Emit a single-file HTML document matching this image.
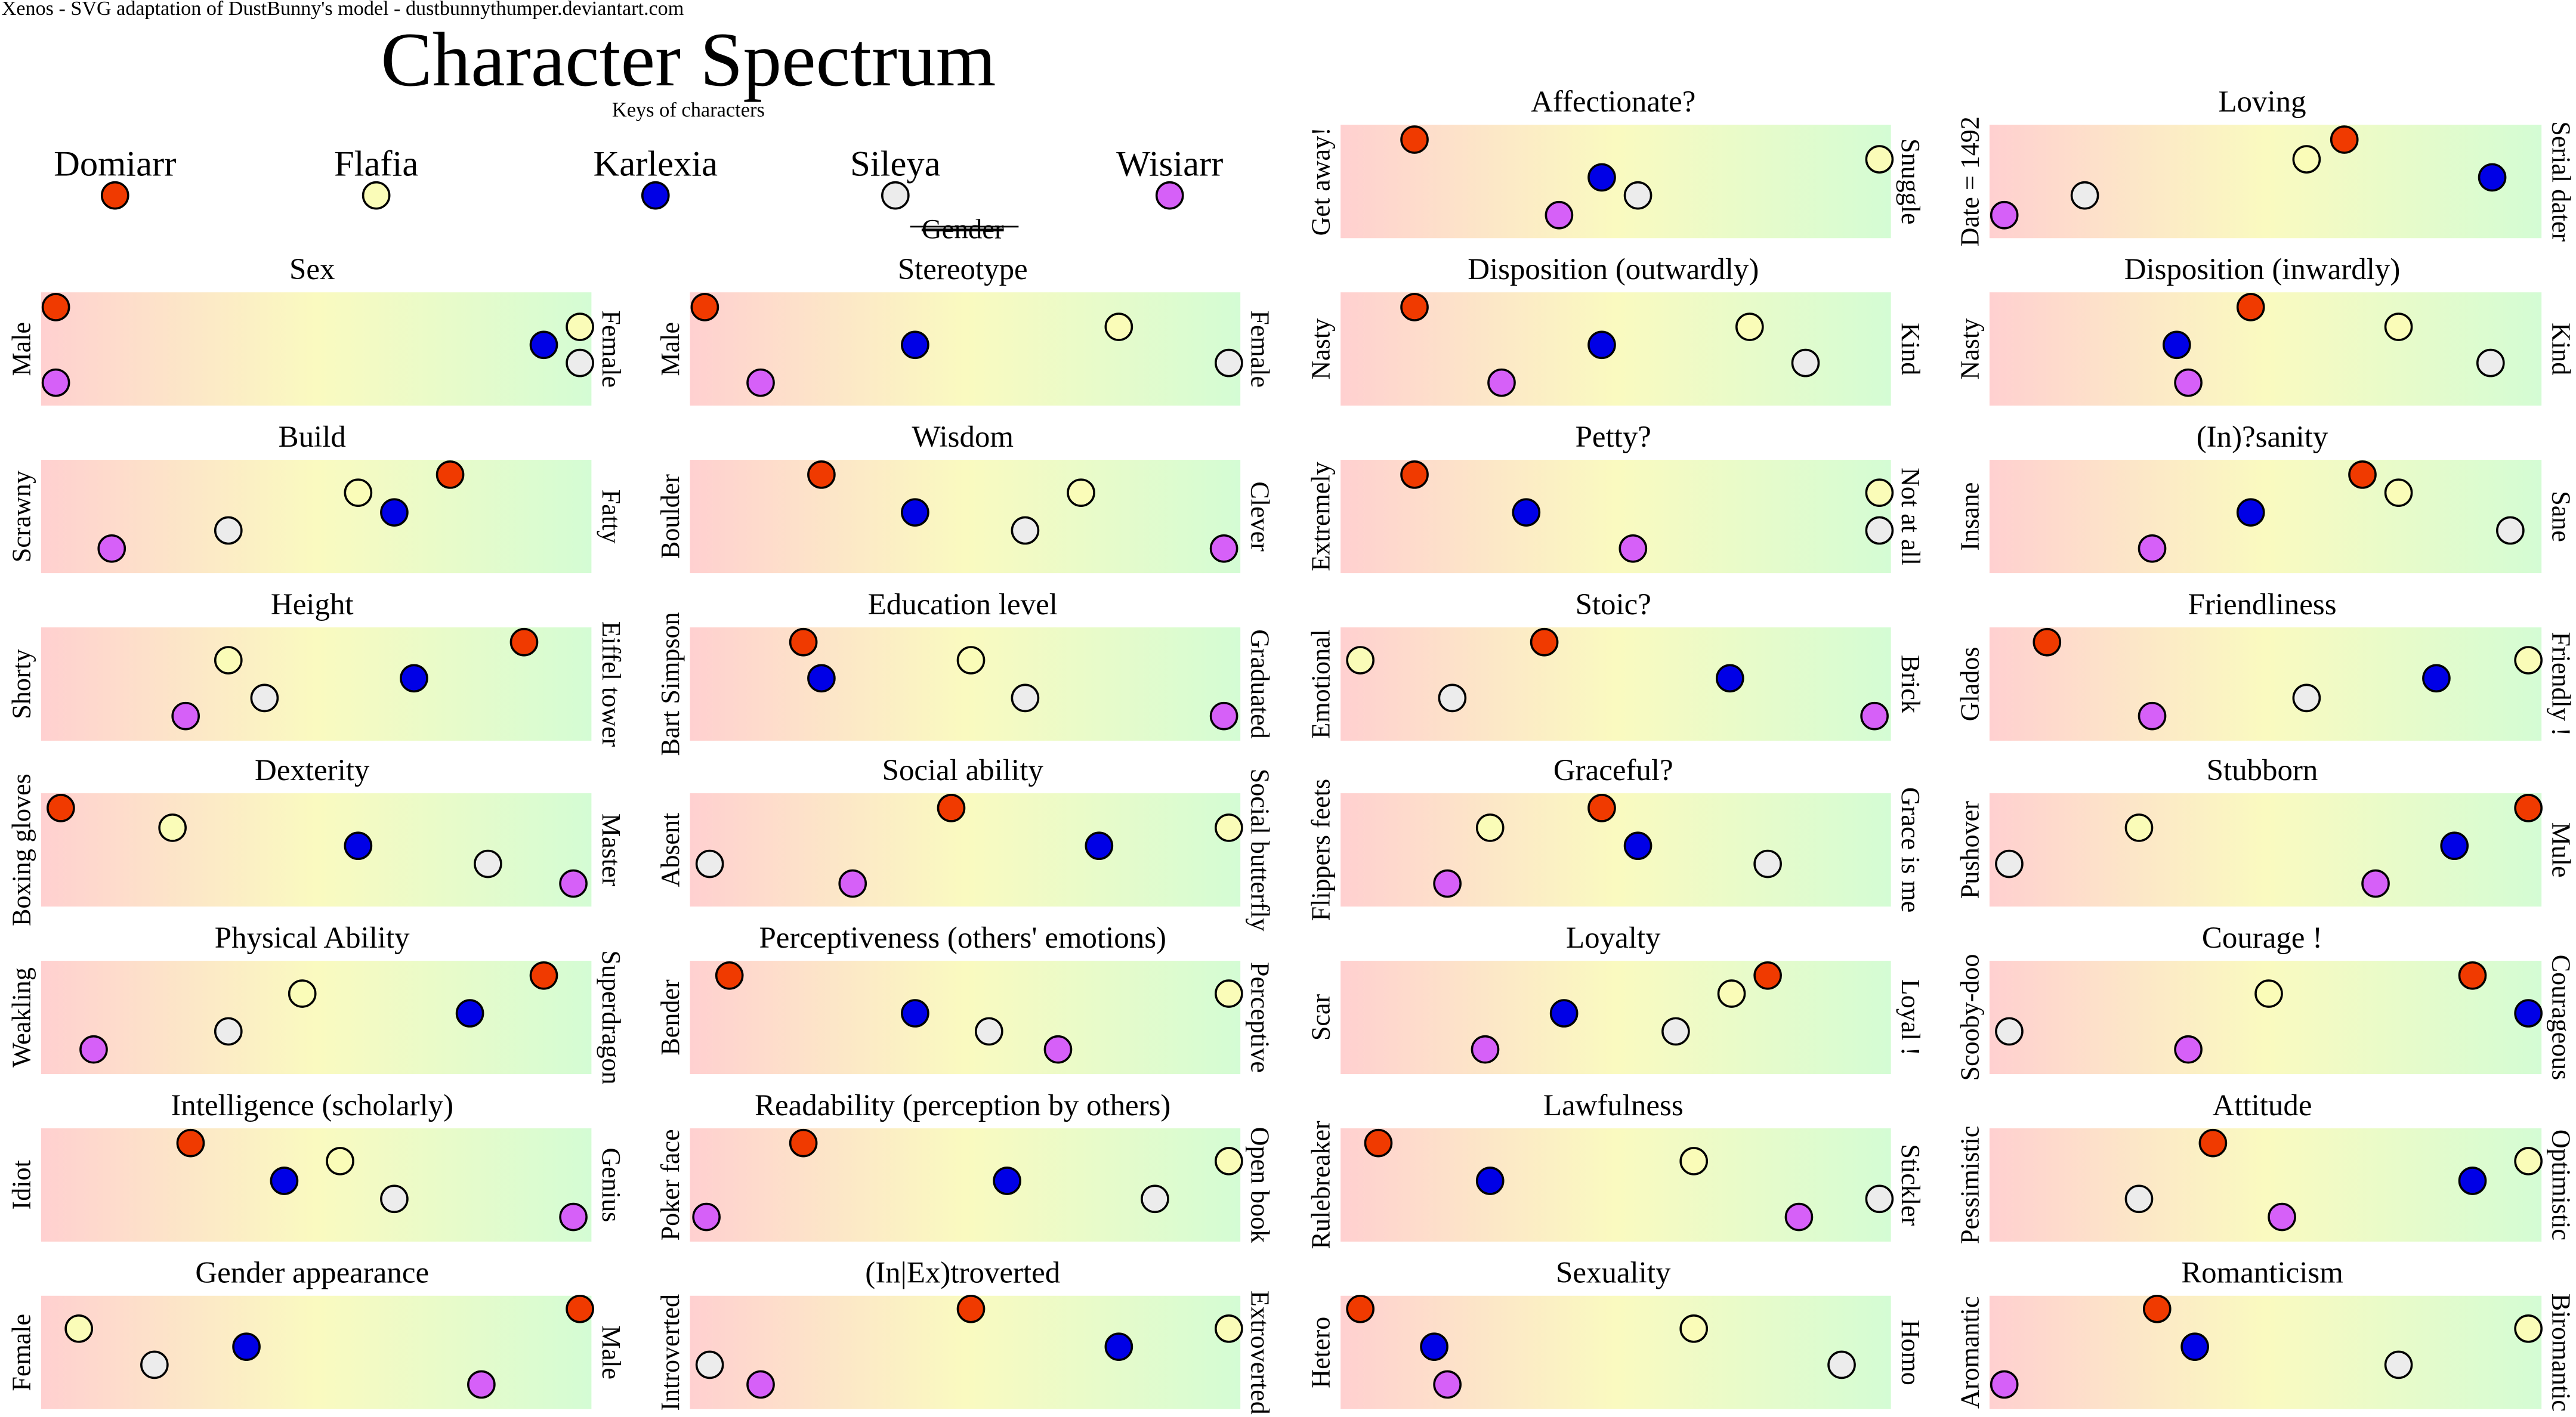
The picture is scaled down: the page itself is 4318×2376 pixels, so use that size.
<!DOCTYPE html>
<html><head><meta charset="utf-8"><style>
html,body{margin:0;padding:0;background:#fff;}
svg{display:block;}
text{font-family:"Liberation Serif",serif;fill:#000;}
.t{font-size:18.5px;text-anchor:middle;}
.l{font-size:16px;text-anchor:middle;dominant-baseline:central;}
circle{stroke:#000;stroke-width:1.3;}
.D{fill:#f03a00}.F{fill:#fafcb8}.K{fill:#0000e6}.S{fill:#ececec}.W{fill:#d660f8}
</style></head><body>
<svg width="4318" height="2376" viewBox="0 0 1568 862.8" preserveAspectRatio="none" xmlns="http://www.w3.org/2000/svg">
<defs><linearGradient id="g" x1="0" x2="1" y1="0" y2="0">
<stop offset="0" stop-color="#ffd0d0"/><stop offset="0.5" stop-color="#fafac0"/><stop offset="1" stop-color="#d4fcd4"/></linearGradient></defs>

<text x="1" y="9" style="font-size:12.4px">Xenos - SVG adaptation of DustBunny's model - dustbunnythumper.deviantart.com</text>
<text x="419" y="52" style="font-size:47px;text-anchor:middle">Character Spectrum</text>
<text x="419" y="71" style="font-size:12.5px;text-anchor:middle">Keys of characters</text>
<text x="70" y="107" style="font-size:22px;text-anchor:middle">Domiarr</text>
<text x="229" y="107" style="font-size:22px;text-anchor:middle">Flafia</text>
<text x="399" y="107" style="font-size:22px;text-anchor:middle">Karlexia</text>
<text x="545" y="107" style="font-size:22px;text-anchor:middle">Sileya</text>
<text x="712" y="107" style="font-size:22px;text-anchor:middle">Wisiarr</text>
<circle class="D" cx="70" cy="119" r="8"/><circle class="F" cx="229" cy="119" r="8"/><circle class="K" cx="399" cy="119" r="8"/><circle class="S" cx="545" cy="119" r="8"/><circle class="W" cx="712" cy="119" r="8"/>
<text x="586" y="145" style="font-size:17px;text-anchor:middle;text-decoration:line-through">Gender</text>
<line x1="554" y1="138" x2="620" y2="138" stroke="#000" stroke-width="1"/>

<!-- column 1 -->
<rect x="25" y="178" width="335" height="69" fill="url(#g)"/><text class="t" x="190" y="170">Sex</text>
<text class="l" transform="translate(13,212.5) rotate(-90)">Male</text><text class="l" transform="translate(372,212.5) rotate(90)">Female</text>
<circle class="D" cx="34" cy="187" r="8"/><circle class="F" cx="353" cy="199" r="8"/><circle class="K" cx="331" cy="210" r="8"/><circle class="S" cx="353" cy="221" r="8"/><circle class="W" cx="34" cy="233" r="8"/>

<rect x="25" y="280" width="335" height="69" fill="url(#g)"/><text class="t" x="190" y="272">Build</text>
<text class="l" transform="translate(13,314.5) rotate(-90)">Scrawny</text><text class="l" transform="translate(372,314.5) rotate(90)">Fatty</text>
<circle class="D" cx="274" cy="289" r="8"/><circle class="F" cx="218" cy="300" r="8"/><circle class="K" cx="240" cy="312" r="8"/><circle class="S" cx="139" cy="323" r="8"/><circle class="W" cx="68" cy="334" r="8"/>

<rect x="25" y="382" width="335" height="69" fill="url(#g)"/><text class="t" x="190" y="374">Height</text>
<text class="l" transform="translate(13,416.5) rotate(-90)">Shorty</text><text class="l" transform="translate(372,416.5) rotate(90)">Eiffel tower</text>
<circle class="D" cx="319" cy="391" r="8"/><circle class="F" cx="139" cy="402" r="8"/><circle class="K" cx="252" cy="413" r="8"/><circle class="S" cx="161" cy="425" r="8"/><circle class="W" cx="113" cy="436" r="8"/>

<rect x="25" y="483" width="335" height="69" fill="url(#g)"/><text class="t" x="190" y="475">Dexterity</text>
<text class="l" transform="translate(13,517.5) rotate(-90)">Boxing gloves</text><text class="l" transform="translate(372,517.5) rotate(90)">Master</text>
<circle class="D" cx="37" cy="492" r="8"/><circle class="F" cx="105" cy="504" r="8"/><circle class="K" cx="218" cy="515" r="8"/><circle class="S" cx="297" cy="526" r="8"/><circle class="W" cx="349" cy="538" r="8"/>

<rect x="25" y="585" width="335" height="69" fill="url(#g)"/><text class="t" x="190" y="577">Physical Ability</text>
<text class="l" transform="translate(13,619.5) rotate(-90)">Weakling</text><text class="l" transform="translate(372,619.5) rotate(90)">Superdragon</text>
<circle class="D" cx="331" cy="594" r="8"/><circle class="F" cx="184" cy="605" r="8"/><circle class="K" cx="286" cy="617" r="8"/><circle class="S" cx="139" cy="628" r="8"/><circle class="W" cx="57" cy="639" r="8"/>

<rect x="25" y="687" width="335" height="69" fill="url(#g)"/><text class="t" x="190" y="679">Intelligence (scholarly)</text>
<text class="l" transform="translate(13,721.5) rotate(-90)">Idiot</text><text class="l" transform="translate(372,721.5) rotate(90)">Genius</text>
<circle class="D" cx="116" cy="696" r="8"/><circle class="F" cx="207" cy="707" r="8"/><circle class="K" cx="173" cy="719" r="8"/><circle class="S" cx="240" cy="730" r="8"/><circle class="W" cx="349" cy="741" r="8"/>

<rect x="25" y="789" width="335" height="69" fill="url(#g)"/><text class="t" x="190" y="781">Gender appearance</text>
<text class="l" transform="translate(13,823.5) rotate(-90)">Female</text><text class="l" transform="translate(372,823.5) rotate(90)">Male</text>
<circle class="D" cx="353" cy="797" r="8"/><circle class="F" cx="48" cy="809" r="8"/><circle class="K" cx="150" cy="820" r="8"/><circle class="S" cx="94" cy="831" r="8"/><circle class="W" cx="293" cy="843" r="8"/>

<!-- column 2 -->
<rect x="420" y="178" width="335" height="69" fill="url(#g)"/><text class="t" x="586" y="170">Stereotype</text>
<text class="l" transform="translate(408,212.5) rotate(-90)">Male</text><text class="l" transform="translate(767,212.5) rotate(90)">Female</text>
<circle class="D" cx="429" cy="187" r="8"/><circle class="F" cx="681" cy="199" r="8"/><circle class="K" cx="557" cy="210" r="8"/><circle class="S" cx="748" cy="221" r="8"/><circle class="W" cx="463" cy="233" r="8"/>

<rect x="420" y="280" width="335" height="69" fill="url(#g)"/><text class="t" x="586" y="272">Wisdom</text>
<text class="l" transform="translate(408,314.5) rotate(-90)">Boulder</text><text class="l" transform="translate(767,314.5) rotate(90)">Clever</text>
<circle class="D" cx="500" cy="289" r="8"/><circle class="F" cx="658" cy="300" r="8"/><circle class="K" cx="557" cy="312" r="8"/><circle class="S" cx="624" cy="323" r="8"/><circle class="W" cx="745" cy="334" r="8"/>

<rect x="420" y="382" width="335" height="69" fill="url(#g)"/><text class="t" x="586" y="374">Education level</text>
<text class="l" transform="translate(408,416.5) rotate(-90)">Bart Simpson</text><text class="l" transform="translate(767,416.5) rotate(90)">Graduated</text>
<circle class="D" cx="489" cy="391" r="8"/><circle class="F" cx="591" cy="402" r="8"/><circle class="K" cx="500" cy="413" r="8"/><circle class="S" cx="624" cy="425" r="8"/><circle class="W" cx="745" cy="436" r="8"/>

<rect x="420" y="483" width="335" height="69" fill="url(#g)"/><text class="t" x="586" y="475">Social ability</text>
<text class="l" transform="translate(408,517.5) rotate(-90)">Absent</text><text class="l" transform="translate(767,517.5) rotate(90)">Social butterfly</text>
<circle class="D" cx="579" cy="492" r="8"/><circle class="F" cx="748" cy="504" r="8"/><circle class="K" cx="669" cy="515" r="8"/><circle class="S" cx="432" cy="526" r="8"/><circle class="W" cx="519" cy="538" r="8"/>

<rect x="420" y="585" width="335" height="69" fill="url(#g)"/><text class="t" x="586" y="577">Perceptiveness (others' emotions)</text>
<text class="l" transform="translate(408,619.5) rotate(-90)">Bender</text><text class="l" transform="translate(767,619.5) rotate(90)">Perceptive</text>
<circle class="D" cx="444" cy="594" r="8"/><circle class="F" cx="748" cy="605" r="8"/><circle class="K" cx="557" cy="617" r="8"/><circle class="S" cx="602" cy="628" r="8"/><circle class="W" cx="644" cy="639" r="8"/>

<rect x="420" y="687" width="335" height="69" fill="url(#g)"/><text class="t" x="586" y="679">Readability (perception by others)</text>
<text class="l" transform="translate(408,721.5) rotate(-90)">Poker face</text><text class="l" transform="translate(767,721.5) rotate(90)">Open book</text>
<circle class="D" cx="489" cy="696" r="8"/><circle class="F" cx="748" cy="707" r="8"/><circle class="K" cx="613" cy="719" r="8"/><circle class="S" cx="703" cy="730" r="8"/><circle class="W" cx="430" cy="741" r="8"/>

<rect x="420" y="789" width="335" height="69" fill="url(#g)"/><text class="t" x="586" y="781">(In|Ex)troverted</text>
<text class="l" transform="translate(408,823.5) rotate(-90)">Introverted</text><text class="l" transform="translate(767,823.5) rotate(90)">Extroverted</text>
<circle class="D" cx="591" cy="797" r="8"/><circle class="F" cx="748" cy="809" r="8"/><circle class="K" cx="681" cy="820" r="8"/><circle class="S" cx="432" cy="831" r="8"/><circle class="W" cx="463" cy="843" r="8"/>

<!-- column 3 -->
<rect x="816" y="76" width="335" height="69" fill="url(#g)"/><text class="t" x="982" y="68">Affectionate?</text>
<text class="l" transform="translate(804,110.5) rotate(-90)">Get away!</text><text class="l" transform="translate(1163,110.5) rotate(90)">Snuggle</text>
<circle class="D" cx="861" cy="85" r="8"/><circle class="F" cx="1144" cy="97" r="8"/><circle class="K" cx="975" cy="108" r="8"/><circle class="S" cx="997" cy="119" r="8"/><circle class="W" cx="949" cy="131" r="8"/>

<rect x="816" y="178" width="335" height="69" fill="url(#g)"/><text class="t" x="982" y="170">Disposition (outwardly)</text>
<text class="l" transform="translate(804,212.5) rotate(-90)">Nasty</text><text class="l" transform="translate(1163,212.5) rotate(90)">Kind</text>
<circle class="D" cx="861" cy="187" r="8"/><circle class="F" cx="1065" cy="199" r="8"/><circle class="K" cx="975" cy="210" r="8"/><circle class="S" cx="1099" cy="221" r="8"/><circle class="W" cx="914" cy="233" r="8"/>

<rect x="816" y="280" width="335" height="69" fill="url(#g)"/><text class="t" x="982" y="272">Petty?</text>
<text class="l" transform="translate(804,314.5) rotate(-90)">Extremely</text><text class="l" transform="translate(1163,314.5) rotate(90)">Not at all</text>
<circle class="D" cx="861" cy="289" r="8"/><circle class="F" cx="1144" cy="300" r="8"/><circle class="K" cx="929" cy="312" r="8"/><circle class="S" cx="1144" cy="323" r="8"/><circle class="W" cx="994" cy="334" r="8"/>

<rect x="816" y="382" width="335" height="69" fill="url(#g)"/><text class="t" x="982" y="374">Stoic?</text>
<text class="l" transform="translate(804,416.5) rotate(-90)">Emotional</text><text class="l" transform="translate(1163,416.5) rotate(90)">Brick</text>
<circle class="D" cx="940" cy="391" r="8"/><circle class="F" cx="828" cy="402" r="8"/><circle class="K" cx="1053" cy="413" r="8"/><circle class="S" cx="884" cy="425" r="8"/><circle class="W" cx="1141" cy="436" r="8"/>

<rect x="816" y="483" width="335" height="69" fill="url(#g)"/><text class="t" x="982" y="475">Graceful?</text>
<text class="l" transform="translate(804,517.5) rotate(-90)">Flippers feets</text><text class="l" transform="translate(1163,517.5) rotate(90)">Grace is me</text>
<circle class="D" cx="975" cy="492" r="8"/><circle class="F" cx="907" cy="504" r="8"/><circle class="K" cx="997" cy="515" r="8"/><circle class="S" cx="1076" cy="526" r="8"/><circle class="W" cx="881" cy="538" r="8"/>

<rect x="816" y="585" width="335" height="69" fill="url(#g)"/><text class="t" x="982" y="577">Loyalty</text>
<text class="l" transform="translate(804,619.5) rotate(-90)">Scar</text><text class="l" transform="translate(1163,619.5) rotate(90)">Loyal !</text>
<circle class="D" cx="1076" cy="594" r="8"/><circle class="F" cx="1054" cy="605" r="8"/><circle class="K" cx="952" cy="617" r="8"/><circle class="S" cx="1020" cy="628" r="8"/><circle class="W" cx="904" cy="639" r="8"/>

<rect x="816" y="687" width="335" height="69" fill="url(#g)"/><text class="t" x="982" y="679">Lawfulness</text>
<text class="l" transform="translate(804,721.5) rotate(-90)">Rulebreaker</text><text class="l" transform="translate(1163,721.5) rotate(90)">Stickler</text>
<circle class="D" cx="839" cy="696" r="8"/><circle class="F" cx="1031" cy="707" r="8"/><circle class="K" cx="907" cy="719" r="8"/><circle class="S" cx="1144" cy="730" r="8"/><circle class="W" cx="1095" cy="741" r="8"/>

<rect x="816" y="789" width="335" height="69" fill="url(#g)"/><text class="t" x="982" y="781">Sexuality</text>
<text class="l" transform="translate(804,823.5) rotate(-90)">Hetero</text><text class="l" transform="translate(1163,823.5) rotate(90)">Homo</text>
<circle class="D" cx="828" cy="797" r="8"/><circle class="F" cx="1031" cy="809" r="8"/><circle class="K" cx="873" cy="820" r="8"/><circle class="S" cx="1121" cy="831" r="8"/><circle class="W" cx="881" cy="843" r="8"/>

<!-- column 4 -->
<rect x="1211" y="76" width="336" height="69" fill="url(#g)"/><text class="t" x="1377" y="68">Loving</text>
<text class="l" transform="translate(1199,110.5) rotate(-90)">Date = 1492</text><text class="l" transform="translate(1559,110.5) rotate(90)">Serial dater</text>
<circle class="D" cx="1427" cy="85" r="8"/><circle class="F" cx="1404" cy="97" r="8"/><circle class="K" cx="1517" cy="108" r="8"/><circle class="S" cx="1269" cy="119" r="8"/><circle class="W" cx="1220" cy="131" r="8"/>

<rect x="1211" y="178" width="336" height="69" fill="url(#g)"/><text class="t" x="1377" y="170">Disposition (inwardly)</text>
<text class="l" transform="translate(1199,212.5) rotate(-90)">Nasty</text><text class="l" transform="translate(1559,212.5) rotate(90)">Kind</text>
<circle class="D" cx="1370" cy="187" r="8"/><circle class="F" cx="1460" cy="199" r="8"/><circle class="K" cx="1325" cy="210" r="8"/><circle class="S" cx="1516" cy="221" r="8"/><circle class="W" cx="1332" cy="233" r="8"/>

<rect x="1211" y="280" width="336" height="69" fill="url(#g)"/><text class="t" x="1377" y="272">(In)?sanity</text>
<text class="l" transform="translate(1199,314.5) rotate(-90)">Insane</text><text class="l" transform="translate(1559,314.5) rotate(90)">Sane</text>
<circle class="D" cx="1438" cy="289" r="8"/><circle class="F" cx="1460" cy="300" r="8"/><circle class="K" cx="1370" cy="312" r="8"/><circle class="S" cx="1528" cy="323" r="8"/><circle class="W" cx="1310" cy="334" r="8"/>

<rect x="1211" y="382" width="336" height="69" fill="url(#g)"/><text class="t" x="1377" y="374">Friendliness</text>
<text class="l" transform="translate(1199,416.5) rotate(-90)">Glados</text><text class="l" transform="translate(1559,416.5) rotate(90)">Friendly !</text>
<circle class="D" cx="1246" cy="391" r="8"/><circle class="F" cx="1539" cy="402" r="8"/><circle class="K" cx="1483" cy="413" r="8"/><circle class="S" cx="1404" cy="425" r="8"/><circle class="W" cx="1310" cy="436" r="8"/>

<rect x="1211" y="483" width="336" height="69" fill="url(#g)"/><text class="t" x="1377" y="475">Stubborn</text>
<text class="l" transform="translate(1199,517.5) rotate(-90)">Pushover</text><text class="l" transform="translate(1559,517.5) rotate(90)">Mule</text>
<circle class="D" cx="1539" cy="492" r="8"/><circle class="F" cx="1302" cy="504" r="8"/><circle class="K" cx="1494" cy="515" r="8"/><circle class="S" cx="1223" cy="526" r="8"/><circle class="W" cx="1446" cy="538" r="8"/>

<rect x="1211" y="585" width="336" height="69" fill="url(#g)"/><text class="t" x="1377" y="577">Courage !</text>
<text class="l" transform="translate(1199,619.5) rotate(-90)">Scooby-doo</text><text class="l" transform="translate(1559,619.5) rotate(90)">Courageous</text>
<circle class="D" cx="1505" cy="594" r="8"/><circle class="F" cx="1381" cy="605" r="8"/><circle class="K" cx="1539" cy="617" r="8"/><circle class="S" cx="1223" cy="628" r="8"/><circle class="W" cx="1332" cy="639" r="8"/>

<rect x="1211" y="687" width="336" height="69" fill="url(#g)"/><text class="t" x="1377" y="679">Attitude</text>
<text class="l" transform="translate(1199,721.5) rotate(-90)">Pessimistic</text><text class="l" transform="translate(1559,721.5) rotate(90)">Optimistic</text>
<circle class="D" cx="1347" cy="696" r="8"/><circle class="F" cx="1539" cy="707" r="8"/><circle class="K" cx="1505" cy="719" r="8"/><circle class="S" cx="1302" cy="730" r="8"/><circle class="W" cx="1389" cy="741" r="8"/>

<rect x="1211" y="789" width="336" height="69" fill="url(#g)"/><text class="t" x="1377" y="781">Romanticism</text>
<text class="l" transform="translate(1199,823.5) rotate(-90)">Aromantic</text><text class="l" transform="translate(1559,823.5) rotate(90)">Biromantic</text>
<circle class="D" cx="1313" cy="797" r="8"/><circle class="F" cx="1539" cy="809" r="8"/><circle class="K" cx="1336" cy="820" r="8"/><circle class="S" cx="1460" cy="831" r="8"/><circle class="W" cx="1220" cy="843" r="8"/>
</svg>
</body></html>
